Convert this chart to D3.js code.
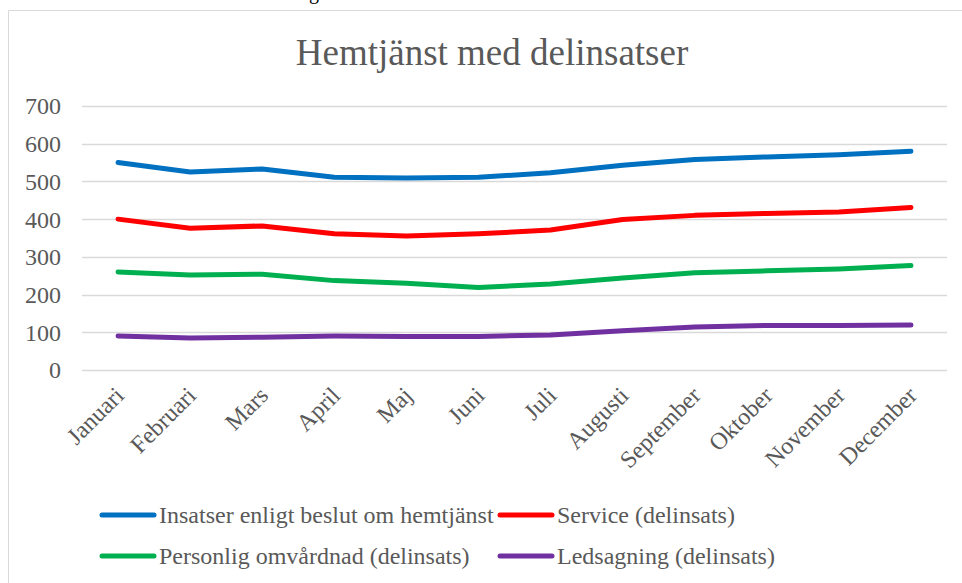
<!DOCTYPE html>
<html>
<head>
<meta charset="utf-8">
<script src="https://cdn.jsdelivr.net/npm/d3@7"></script>
<style>
  body { margin: 0; background: #fff; }
  svg { display: block; font-family: "Liberation Serif", "Times New Roman", serif; }
</style>
</head>
<body>
<svg id="chart" width="962" height="583"></svg>
<script>
// month labels on the x axis
const months = ["Januari", "Februari", "Mars", "April", "Maj", "Juni", "Juli",
    "Augusti", "September", "Oktober", "November", "December"];

// series values
const insatser = [550, 525, 533, 511, 509, 511, 523, 543, 558, 565, 571, 580];
const service = [400, 376, 382, 361, 355, 361, 371, 399, 410, 415, 419, 431];
const omvardnad = [260, 252, 254, 237, 230, 219, 228, 244, 258, 263, 268, 277];
const ledsagning = [90, 85, 87, 90, 89, 89, 93, 104, 114, 118, 118, 119];

const seriesNames = ["Insatser enligt beslut om hemtjänst", "Service (delinsats)",
    "Personlig omvårdnad (delinsats)", "Ledsagning (delinsats)"];
const seriesColors = ["#0070C0", "#FF0000", "#00B050", "#7030A0"];
const yTicks = [0, 100, 200, 300, 400, 500, 600, 700];

const series = [insatser, service, omvardnad, ledsagning].map((v, i) => ({
    name: seriesNames[i], color: seriesColors[i], values: v
}));

const svg = d3.select("#chart");

// chart frame (only top and left edges visible)
svg.append("line").attr("x1", 8.5).attr("y1", 10.5).attr("x2", 962).attr("y2", 10.5)
    .attr("stroke", "#d9d9d9").attr("stroke-width", 1);
svg.append("line").attr("x1", 8.5).attr("y1", 10.5).attr("x2", 8.5).attr("y2", 583)
    .attr("stroke", "#d9d9d9").attr("stroke-width", 1);

// descender of a cut-off heading above the chart
svg.append("text").attr("x", 309).attr("y", -1).attr("font-size", 20)
    .attr("fill", "#000").text("g");

const plot = {left: 82, right: 947, top: 106, bottom: 370};

const x = d3.scalePoint().domain(months)
    .range([plot.left, plot.right]).padding(0.5);
const y = d3.scaleLinear().domain([0, 700]).range([plot.bottom, plot.top]);

// gridlines
svg.append("g").selectAll("line").data(yTicks).enter().append("line")
    .attr("x1", plot.left).attr("x2", plot.right)
    .attr("y1", d => Math.round(y(d)) + 0.5).attr("y2", d => Math.round(y(d)) + 0.5)
    .attr("stroke", "#d9d9d9").attr("stroke-width", 1.5);

// y axis labels
const yAxis = d3.axisLeft(y).tickValues(yTicks).tickSize(0).tickPadding(0);
const yg = svg.append("g").attr("transform", "translate(61,0)").call(yAxis);
yg.select(".domain").remove();
yg.selectAll("text").attr("font-family", "Liberation Serif, serif")
    .attr("font-size", 24).attr("fill", "#595959").attr("dy", "0.33em");

// x axis labels, rotated
const xAxis = d3.axisBottom(x).tickSize(0).tickPadding(0);
const xg = svg.append("g").attr("transform", `translate(0,${plot.bottom})`).call(xAxis);
xg.select(".domain").remove();
xg.selectAll("text")
    .attr("font-family", "Liberation Serif, serif").attr("font-size", 24)
    .attr("fill", "#595959").attr("text-anchor", "end")
    .attr("dy", "0.35em").attr("y", 0)
    .attr("transform", "translate(1,21) rotate(-45)");

// lines
const line = d3.line().x((d, i) => x(months[i])).y(d => y(d));
svg.append("g").selectAll("path").data(series).enter().append("path")
    .attr("d", d => line(d.values))
    .attr("fill", "none").attr("stroke", d => d.color)
    .attr("stroke-width", 5).attr("stroke-linecap", "round").attr("stroke-linejoin", "round");

// title
svg.append("text").attr("x", 492).attr("y", 65).attr("text-anchor", "middle")
    .attr("font-size", 37).attr("fill", "#595959").text("Hemtjänst med delinsatser");

// legend
const legendPos = [[100, 515], [498, 515], [100, 556], [498, 556]];
const legend = svg.append("g").selectAll("g").data(series).enter().append("g")
    .attr("transform", (d, i) => `translate(${legendPos[i][0]},${legendPos[i][1]})`);
legend.append("line").attr("x1", 2).attr("x2", 54).attr("y1", 0).attr("y2", 0)
    .attr("stroke", d => d.color).attr("stroke-width", 5).attr("stroke-linecap", "round");
legend.append("text").attr("x", 59).attr("y", 0).attr("dy", "0.35em")
    .attr("font-size", 24).attr("fill", "#595959").text(d => d.name);
</script>
</body>
</html>
